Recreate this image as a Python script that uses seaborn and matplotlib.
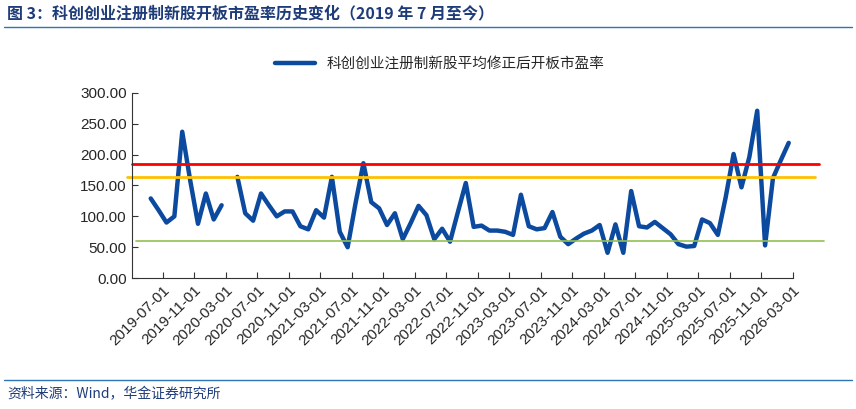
import numpy as np
import pandas as pd
import matplotlib
matplotlib.use("Agg")
import matplotlib.pyplot as plt
import seaborn as sns
from matplotlib.lines import Line2D

months = pd.date_range("2019-07-01", "2026-04-01", freq="MS")
pe = [129, 110, 90, 100, 237, 159, 88, 137, 95, 118, np.nan,
      164, 105, 93, 137, 118, 100, 108, 108, 84, 79, 110, 98, 164, 75, 50, 121,
      186, 123, 113, 86, 105, 63, 89, 117, 102, 63, 80, 59, 107, 154, 83, 85, 77,
      77, 75, 70, 135, 84, 79, 81, 107, 67, 55, 64, 72, 77, 86, 41, 87, 41, 141,
      84, 82, 91, 81, 71, 55, 51, 52, 95, 89, 70, 131, 201, 147, 196, 271, 53,
      162, 191, 219]
red_level = 185
orange_level = 163
green_level = 60
series_name = "科创创业注册制新股平均修正后开板市盈率"
tick_labels = [d.strftime("%Y-%m-%d") for d in pd.date_range("2019-07-01", "2026-03-01", freq="4MS")]

df = pd.DataFrame({"i": np.arange(len(months)), "pe": pe})

sns.set_style("white")
plt.rcParams["font.family"] = ["Noto Sans CJK SC", "DejaVu Sans"]
plt.rcParams["axes.unicode_minus"] = False

fig = plt.figure(figsize=(8.56, 4.09), dpi=100)
ax = fig.add_axes([0.154, 0.320, 0.772, 0.453])

# ax.plot keeps the gap for the missing month (sns.lineplot would bridge it)
ax.plot(df["i"], df["pe"], color="#0B4A9E", linewidth=3.2, solid_joinstyle="round")

ax.plot([-2.4, 84.8], [red_level] * 2, color="#FF0000", lw=2, clip_on=False)
ax.plot([-3.05, 84.3], [orange_level] * 2, color="#FFC000", lw=2, clip_on=False)
ax.plot([-1.9, 85.5], [green_level] * 2, color="#92C050", lw=1.2, clip_on=False)

ax.set_xlim(-2.4, 81.5)
ax.set_ylim(0, 300)
ax.set_yticks(np.arange(0, 301, 50))
ax.set_yticklabels([f"{v:.2f}" for v in np.arange(0, 301, 50)], fontsize=11,
                   family=["Liberation Sans", "DejaVu Sans"])
ax.set_xticks(np.arange(len(tick_labels)) * 4 + 1.5)
ax.set_xticklabels(tick_labels, rotation=45, ha="right", rotation_mode="anchor",
                   fontsize=11, family=["Liberation Sans", "DejaVu Sans"])
for s in ["top", "right"]:
    ax.spines[s].set_visible(False)
for s in ["left", "bottom"]:
    ax.spines[s].set_color("#333333")
ax.tick_params(axis="both", direction="in", length=4, color="#333333", left=True, bottom=True)

ax.legend(handles=[Line2D([], [], color="#0B4A9E", lw=3.2)], labels=[series_name],
          loc="center", bbox_to_anchor=(0.466, 1.157), frameon=False, fontsize=10.5,
          handlelength=2.8)

fig.text(0.008, 0.968, "图 3：科创创业注册制新股开板市盈率历史变化（2019 年 7 月至今）",
         fontsize=11.5, color="#1F3C7A", va="center", fontweight="bold")
fig.add_artist(Line2D([0.005, 0.995], [0.935, 0.935], color="#2E75B6", lw=1))
fig.add_artist(Line2D([0.005, 0.995], [0.072, 0.072], color="#2E75B6", lw=1))
fig.text(0.008, 0.035, "资料来源：Wind，华金证券研究所", fontsize=10, style="italic",
         color="#1F3C7A", va="center")

fig.savefig("out.png", dpi=100)
